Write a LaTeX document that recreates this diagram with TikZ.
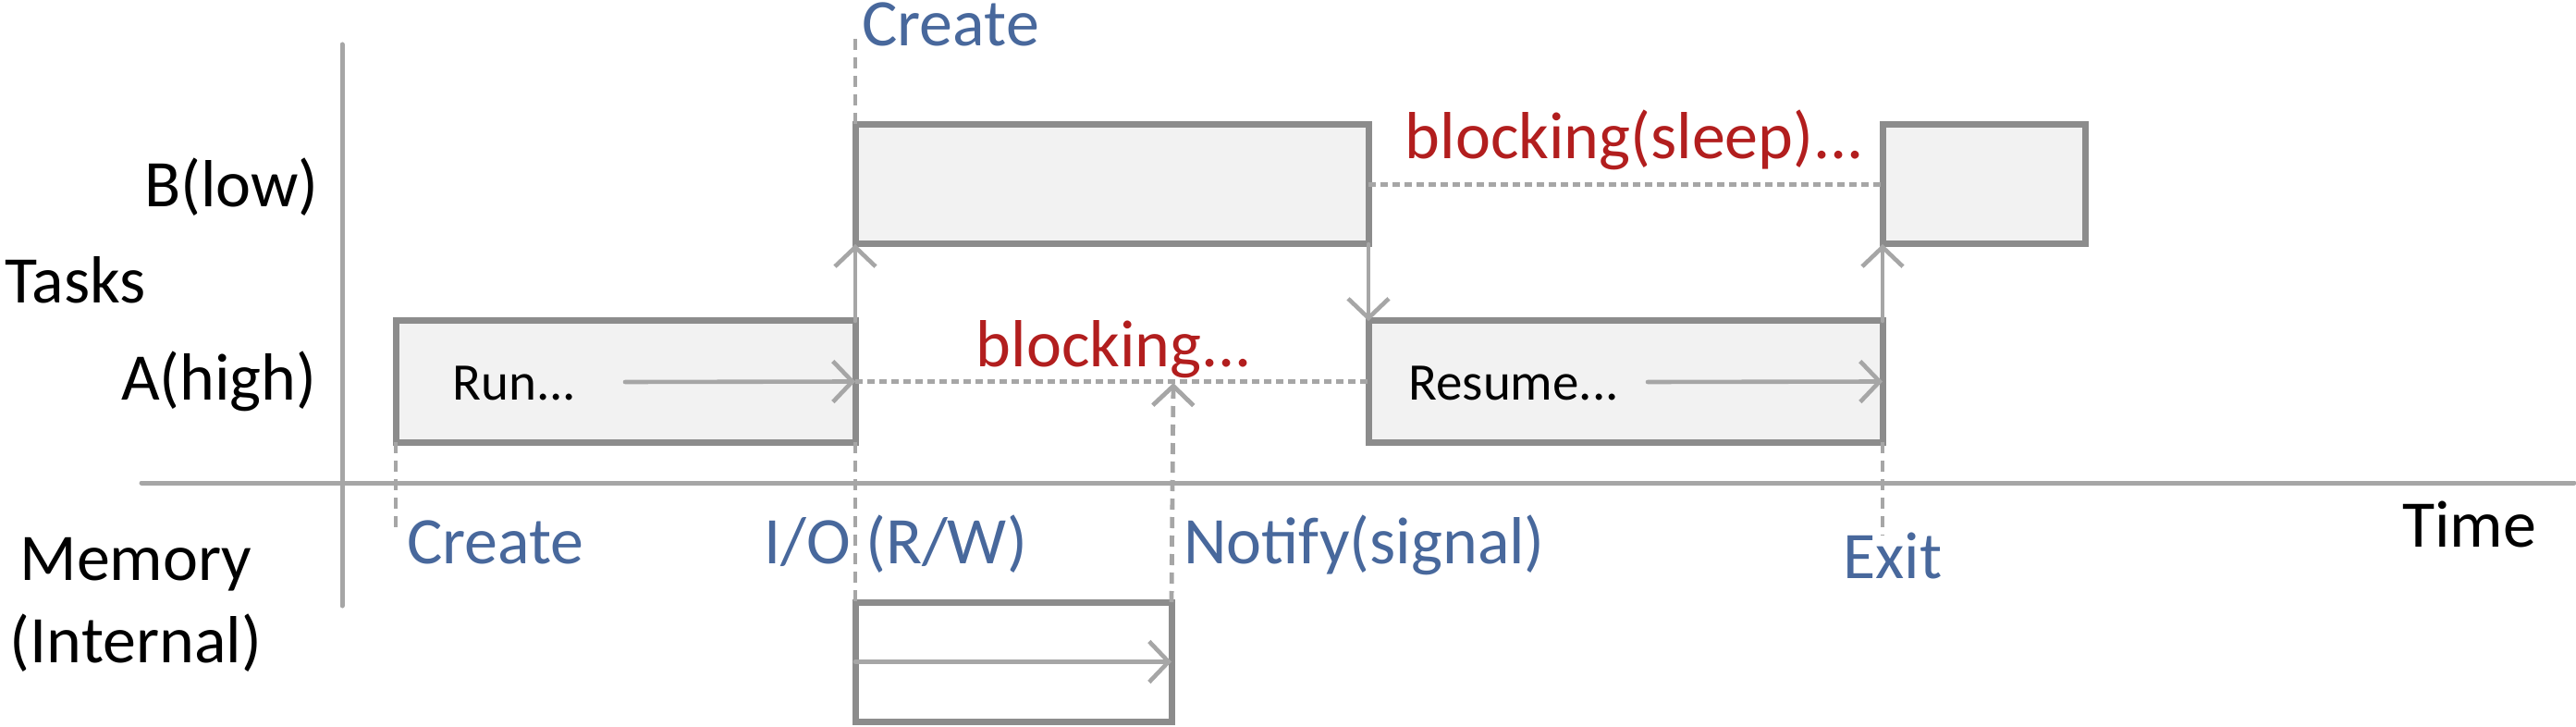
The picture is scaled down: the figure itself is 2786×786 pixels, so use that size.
\documentclass[tikz,border=0pt]{standalone}
\usepackage{fontspec}
\setmainfont{Carlito}
\usetikzlibrary{arrows.meta}
\definecolor{axisgray}{RGB}{166,166,166}
\definecolor{bargray}{RGB}{140,140,140}
\definecolor{barfill}{RGB}{242,242,242}
\definecolor{eventblue}{RGB}{72,104,156}
\definecolor{waitred}{RGB}{178,30,30}
\begin{document}
\begin{tikzpicture}[line cap=round,line join=round,>={Straight Barb[length=10.5pt,width=22pt]},x=0.5pt,y=-0.5pt,
    task/.style={draw=bargray,fill=barfill,line width=3.5pt,line cap=butt,line join=miter,inner sep=0pt,outer sep=0pt,anchor=north west},
    flow/.style={draw=axisgray,line width=2.3pt},
    waitline/.style={draw=axisgray,line width=2.4pt,line cap=butt,dash pattern=on 4pt off 2.5pt},
    tickline/.style={draw=axisgray,line width=2.4pt,line cap=butt,dash pattern=on 6pt off 4pt},
    lbl/.style={inner sep=0pt,anchor=base west,font=\fontsize{36}{43}\selectfont},
    evt/.style={lbl,text=eventblue},
    wait/.style={inner sep=0pt,anchor=base,font=\fontsize{36}{43}\selectfont,text=waitred},
    intxt/.style={inner sep=0pt,anchor=base west,font=\fontsize{28.5}{34}\selectfont}]
    \useasboundingbox (0,0) rectangle (2786,786);
    % axes
    \coordinate (vtop) at (370,48);
    \coordinate (vbot) at (370,655);
    \coordinate (hleft) at (153,522);
    \coordinate (hright) at (2784,522);
    \draw [draw=axisgray,line width=2.5pt] (vtop) -- (vbot);
    \draw [draw=axisgray,line width=2.5pt] (hleft) -- (hright);
    % task bars
    \node [task,minimum width=248.5pt,minimum height=65.5pt] (runA) at (428,347) {};
    \node [task,minimum width=277.5pt,minimum height=64.5pt] (runB) at (925,135) {};
    \node [task,minimum width=278pt,minimum height=65.5pt] (resA) at (1480,347) {};
    \node [task,minimum width=109.5pt,minimum height=64.5pt] (endB) at (2036,135) {};
    \node [task,fill=white,minimum width=171pt,minimum height=64.5pt] (mem) at (925,651) {};
    % texts in the bars
    \node [intxt] (runtxt) at (489,432) {Run...};
    \node [intxt] (restxt) at (1523,432) {Resume...};
    \coordinate (rungo) at (676,413);
    \coordinate (resgo) at (1782,413);
    \draw [flow,->] (rungo) -- (runA.east);
    \draw [flow,->] (resgo) -- (resA.east);
    \draw [flow,->] (mem.west) -- (mem.east);
    % switches
    \draw [flow,->] (runA.north east) -- (runB.south west);
    \draw [flow,->] (runB.south east) -- (resA.north west);
    \draw [flow,->] (resA.north east) -- (endB.south west);
    % waiting
    \draw [waitline] (runA.east) -- (resA.west);
    \draw [waitline] (runB.east) -- (endB.west);
    \node [wait] (blockA) at (1205,397) {blocking...};
    \node [wait] (blockB) at (1768,172) {blocking(sleep)...};
    % events
    \coordinate (bcreate) at (925,42);
    \coordinate (acreate) at (428,574);
    \coordinate (aexit) at (2036,579);
    \coordinate (wake) at (1269,414);
    \draw [tickline] (bcreate) -- (runB.north west);
    \draw [tickline] (runA.south west) -- (acreate);
    \draw [tickline] (runA.south east) -- (mem.north west);
    \draw [tickline] (resA.south east) -- (aexit);
    \draw [tickline,->] (mem.north east) -- (wake);
    \node [evt] (createB) at (932,50) {Create};
    \node [evt] (createA) at (440,609) {Create};
    \node [evt] (io) at (826,609) {I/O (R/W)};
    \node [evt] (notify) at (1280,609) {Notify(signal)};
    \node [evt] (exitA) at (1993,625) {Exit};
    % axis labels
    \node [lbl,anchor=base east] (taskB) at (345,224) {B(low)};
    \node [lbl,anchor=base east] (taskA) at (343,432) {A(high)};
    \node [lbl] (tasks) at (5,328) {Tasks};
    \node [lbl,anchor=base] (memory) at (147,627) {Memory};
    \node [lbl,anchor=base] (internal) at (147,716) {(Internal)};
    \node [lbl] (time) at (2598,591) {Time};
\end{tikzpicture}
\end{document}
